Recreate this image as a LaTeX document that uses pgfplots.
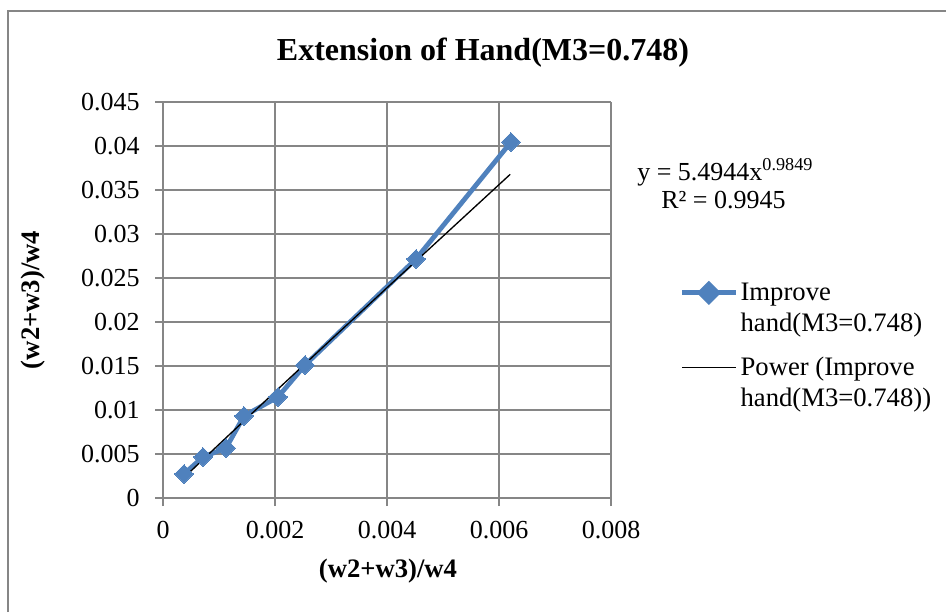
\documentclass[border=0pt]{standalone}
\usepackage{pgfplots}
\pgfplotsset{compat=1.18}
\usepackage{fontspec}
\setmainfont{Liberation Serif}
\definecolor{xlblue}{RGB}{79,129,189}
\definecolor{gridg}{RGB}{134,134,134}
\begin{document}
\begin{tikzpicture}[x=0.75pt,y=0.75pt]
\useasboundingbox (0,0) rectangle (946,612);
\draw[gridg,line width=1.5pt] (8,0) -- (8,601) -- (946,601);
\coordinate (O) at (163,114);
\begin{axis}[
  at={(O)}, anchor=origin,
  scale only axis, width=336pt, height=297pt,
  xmin=0, xmax=0.008, ymin=0, ymax=0.045,
  xtick={0,0.002,0.004,0.006,0.008},
  xticklabels={0,0.002,0.004,0.006,0.008},
  ytick={0,0.005,0.01,0.015,0.02,0.025,0.03,0.035,0.04,0.045},
  yticklabels={0,0.005,0.01,0.015,0.02,0.025,0.03,0.035,0.04,0.045},
  scaled ticks=false,
  grid=major,
  major grid style={gridg,line width=1.5pt},
  axis line style={gridg,line width=1.5pt},
  axis x line*=bottom, axis y line*=left,
  tick style={gridg,line width=1.5pt},
  major tick length=6pt,
  tick align=outside,
  tick label style={font=\fontsize{19.5}{22}\selectfont},
  yticklabel style={xshift=-8pt},
  xticklabel style={yshift=-7.5pt},
  clip=false,
  legend style={at={(1.153,0.55)}, anchor=north west, draw=none, fill=none,
    font=\fontsize{20}{23}\selectfont, cells={align=left, anchor=west},
    row sep=14pt, inner sep=0pt},
  legend cell align=left,
]
\addplot[xlblue, line width=3.6pt, mark=square*, mark size=5pt,
  mark options={fill=xlblue, draw=xlblue, line width=0pt, rotate=45},
  legend image code/.code={\draw[xlblue,line width=3.6pt] (0,11.5pt) -- (40pt,11.5pt);
    \fill[xlblue] (20pt,11.5pt) +(0,6.5pt) -- +(6.5pt,0) -- +(0,-6.5pt) -- +(-6.5pt,0) -- cycle;
    \path[draw=none,fill=none] (0,-11.5pt) -- (40pt,-11.5pt);}]
coordinates {
(0.000375,0.00273)
(0.000714,0.00466)
(0.001125,0.00568)
(0.001446,0.00932)
(0.002054,0.01148)
(0.002536,0.01511)
(0.004518,0.02716)
(0.006214,0.04045)
};
\addlegendentry{Improve\\hand(M3=0.748)}
\addplot[black, line width=1pt, no marks,
  legend image code/.code={\draw[black,line width=1pt] (0,11.5pt) -- (40pt,11.5pt);
    \path[draw=none,fill=none] (0,-11.5pt) -- (40pt,-11.5pt);}]
coordinates {
(0.000375,0.002324)
(0.001,0.006095)
(0.002,0.012066)
(0.003,0.017991)
(0.004,0.02389)
(0.005,0.029747)
(0.0062,0.03678)
};
\addlegendentry{Power (Improve\\hand(M3=0.748))}
\end{axis}
\node[font=\bfseries\fontsize{24}{28}\selectfont] at (483,559) {Extension of Hand(M3=0.748)};
\node[font=\bfseries\fontsize{20}{23}\selectfont] at (388,41) {(w2+w3)/w4};
\node[font=\bfseries\fontsize{20}{23}\selectfont, rotate=90] at (33,312) {(w2+w3)/w4};
\node[font=\fontsize{19.5}{22}\selectfont, anchor=west, inner sep=0pt] at (637,440) {y = 5.4944x\textsuperscript{0.9849}};
\node[font=\fontsize{19.5}{22}\selectfont, anchor=west, inner sep=0pt] at (661,412) {R² = 0.9945};
\end{tikzpicture}
\end{document}
